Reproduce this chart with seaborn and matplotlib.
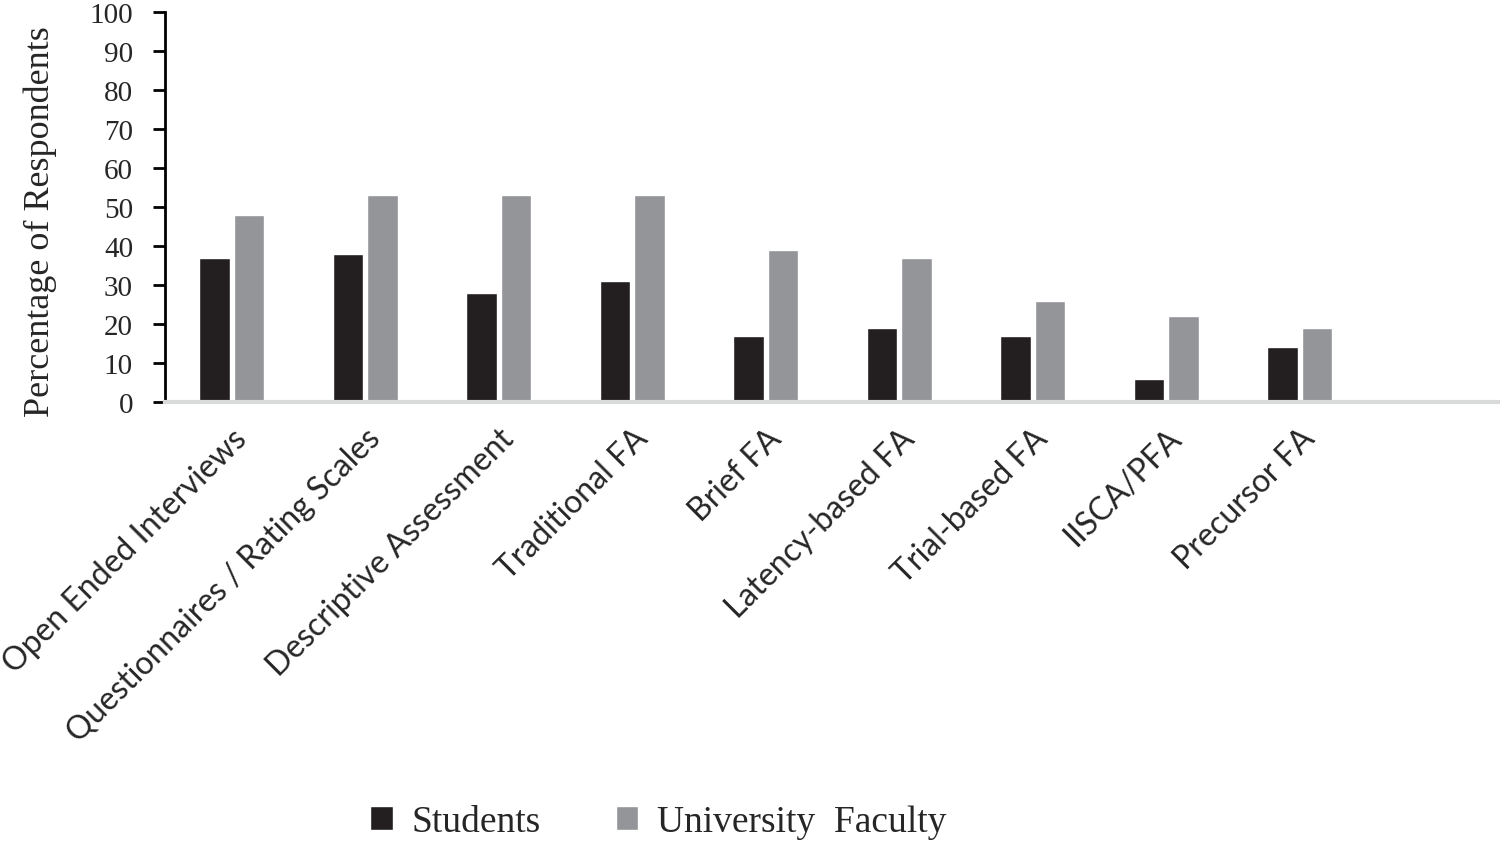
import pandas as pd
import seaborn as sns
import matplotlib.pyplot as plt

# Data
categories = ['Open Ended Interviews', 'Questionnaires / Rating Scales',
              'Descriptive Assessment', 'Traditional FA', 'Brief FA',
              'Latency-based FA', 'Trial-based FA', 'IISCA/PFA', 'Precursor FA']
students = [37, 38, 28, 31, 17, 19, 17, 6, 14]
faculty = [48, 53, 53, 53, 39, 37, 26, 22, 19]
groups = ['Students', 'University  Faculty']
colors = ['#231f20', '#939598']

df = pd.DataFrame({
    'Method': categories * 2,
    'Group': [groups[0]] * len(categories) + [groups[1]] * len(categories),
    'Percent': students + faculty,
})

sns.set_style('white')
plt.rcParams['font.family'] = ['Liberation Serif', 'DejaVu Serif']

fig = plt.figure(figsize=(15, 8.45), dpi=100)
ax = fig.add_axes([0.11, 0.523, 0.89, 0.462])

sns.barplot(data=df, x='Method', y='Percent', hue='Group', order=categories,
            palette=colors, width=0.515, gap=0.11, saturation=1,
            ax=ax, legend=True)

ax.set_xlim(-0.5, 9.5)
ax.set_ylim(0, 100)
ax.set_yticks(range(0, 101, 10))
ax.set_xlabel('')
ax.set_ylabel('Percentage of Respondents', fontsize=26)
ax.yaxis.set_label_coords(-0.081, 0.465)

ax.tick_params(axis='y', direction='out', length=9, width=2, labelsize=21,
               pad=14, left=True, color='black')
ax.tick_params(axis='x', length=0, pad=15)

ax.set_xticks(range(len(categories)))
ax.set_xticklabels(categories, rotation=45, ha='right', rotation_mode='anchor',
                   fontsize=23, family='Lato')

for s in ['top', 'right']:
    ax.spines[s].set_visible(False)
ax.spines['left'].set_color('black')
ax.spines['left'].set_linewidth(2)
ax.spines['bottom'].set_color('#d9dbdb')
ax.spines['bottom'].set_linewidth(3)

handles, labels = ax.get_legend_handles_labels()
ax.get_legend().remove()
fig.legend(handles, labels, loc='center', bbox_to_anchor=(0.439, 0.026),
           ncol=2, frameon=False, fontsize=27, handlelength=0.6,
           handleheight=0.6, handletextpad=0.5, columnspacing=2.0)

plt.savefig('out.png', dpi=100)
plt.close()
